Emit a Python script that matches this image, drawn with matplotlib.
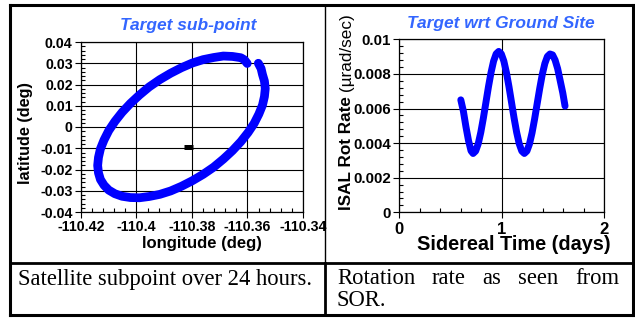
import matplotlib
matplotlib.use("Agg")
import matplotlib.pyplot as plt
from matplotlib.lines import Line2D
from matplotlib.ticker import MultipleLocator

# sub-point track over one day (deg)
track_lon = [-110.3561, -110.3551, -110.3546, -110.3539, -110.3536, -110.3539,
             -110.3546, -110.3559, -110.3576, -110.3598, -110.3624, -110.3654,
             -110.3687, -110.3722, -110.3760, -110.3799, -110.3838, -110.3877,
             -110.3916, -110.3954, -110.3989, -110.4022, -110.4052, -110.4078,
             -110.4100, -110.4117, -110.4130, -110.4137, -110.4140, -110.4137,
             -110.4130, -110.4117, -110.4100, -110.4078, -110.4052, -110.4022,
             -110.3989, -110.3954, -110.3916, -110.3877, -110.3838, -110.3799,
             -110.3760, -110.3722, -110.3687, -110.3654, -110.3624, -110.3611,
             -110.3601]
track_lat = [0.0300, 0.0275, 0.0247, 0.0216, 0.0181, 0.0143,
             0.0103, 0.0061, 0.0017, -0.0026, -0.0069, -0.0111,
             -0.0151, -0.0189, -0.0223, -0.0253, -0.0279, -0.0301,
             -0.0317, -0.0327, -0.0333, -0.0332, -0.0326, -0.0314,
             -0.0297, -0.0274, -0.0247, -0.0216, -0.0181, -0.0143,
             -0.0103, -0.0061, -0.0017, 0.0026, 0.0069, 0.0111,
             0.0151, 0.0189, 0.0223, 0.0253, 0.0279, 0.0301,
             0.0317, 0.0327, 0.0334, 0.0332, 0.0326, 0.0316,
             0.0299]
site_lon = [-110.3828, -110.3798]
site_lat = [-0.0092, -0.0092]

lon_ticks = [-110.42, -110.40, -110.38, -110.36, -110.34]
lon_labels = ["-110.42", "-110.4", "-110.38", "-110.36", "-110.34"]
lat_ticks = [-0.04, -0.03, -0.02, -0.01, 0.0, 0.01, 0.02, 0.03, 0.04]
lat_labels = ["-0.04", "-0.03", "-0.02", "-0.01", "0", "0.01", "0.02", "0.03", "0.04"]

# ISAL rotation rate vs sidereal time
sid_days = [0.600, 0.625, 0.650, 0.675, 0.700, 0.720, 0.745, 0.770, 0.795,
            0.820, 0.845, 0.870, 0.895, 0.920, 0.945, 0.970, 0.995, 1.020,
            1.045, 1.070, 1.095, 1.120, 1.145, 1.170, 1.195, 1.220, 1.245,
            1.270, 1.295, 1.320, 1.345, 1.370, 1.395, 1.420, 1.445, 1.470,
            1.495, 1.520, 1.545, 1.570, 1.595, 1.617]
rot_rate = [0.00650, 0.00585, 0.00495, 0.00415, 0.00355, 0.00340, 0.00354,
            0.00396, 0.00462, 0.00544, 0.00635, 0.00726, 0.00808, 0.00874,
            0.00916, 0.00930, 0.00916, 0.00874, 0.00808, 0.00726, 0.00635,
            0.00544, 0.00462, 0.00396, 0.00354, 0.00340, 0.00354, 0.00395,
            0.00459, 0.00539, 0.00628, 0.00716, 0.00797, 0.00860, 0.00901,
            0.00915, 0.00910, 0.00880, 0.00830, 0.00760, 0.00690, 0.00614]
rate_ticks = [0, 0.002, 0.004, 0.006, 0.008, 0.01]
rate_labels = ["0", "0.002", "0.004", "0.006", "0.008", "0.01"]
day_ticks = [0, 1, 2]
day_labels = ["0", "1", "2"]

title_blue = "#3366ff"
plt.rcParams["font.family"] = ["Liberation Sans", "DejaVu Sans"]
plt.rcParams["font.weight"] = "bold"

fig = plt.figure(figsize=(6.35, 3.2), dpi=100)

# ---- left: sub-point ----
ax1 = fig.add_axes([81 / 635, 1 - 212 / 320, 222 / 635, 170 / 320])
ax1.plot(track_lon, track_lat, color="#0000ff", lw=6.3, solid_capstyle="round",
         solid_joinstyle="round", zorder=3)
ax1.plot(site_lon, site_lat, color="black", lw=3.6, solid_capstyle="butt", zorder=4)
ax1.set_xlim(-110.42, -110.34)
ax1.set_ylim(-0.04, 0.04)
ax1.set_xticks(lon_ticks)
ax1.set_xticklabels(lon_labels)
ax1.set_yticks(lat_ticks)
ax1.set_yticklabels(lat_labels)
ax1.xaxis.set_minor_locator(MultipleLocator(0.004))
ax1.yaxis.set_minor_locator(MultipleLocator(0.002))
ax1.grid(True, which="major", color="black", lw=0.8)
ax1.set_title("Target sub-point", color=title_blue, style="italic", fontsize=12.5,
              fontweight="bold", x=0.482, y=1.02)
ax1.set_xlabel("longitude (deg)", fontsize=12, fontweight="bold")
ax1.xaxis.set_label_coords(0.545, -0.188)
ax1.xaxis.label.set_va("center")
ax1.set_ylabel("latitude (deg)", fontsize=11.7, fontweight="bold")
ax1.yaxis.set_label_coords(-0.25, 0.465)
ax1.yaxis.label.set_va("center")

# ---- right: rotation rate ----
ax2 = fig.add_axes([399.3 / 635, 1 - 212.3 / 320, 205 / 635, 173 / 320])
ax2.plot(sid_days, rot_rate, color="#0000ff", lw=5, solid_capstyle="round",
         solid_joinstyle="round", zorder=3)
ax2.set_xlim(0, 2)
ax2.set_ylim(0, 0.01)
ax2.set_xticks(day_ticks)
ax2.set_xticklabels(day_labels)
ax2.set_yticks(rate_ticks)
ax2.set_yticklabels(rate_labels)
ax2.xaxis.set_minor_locator(MultipleLocator(0.2))
ax2.yaxis.set_minor_locator(MultipleLocator(0.0004))
ax2.grid(True, which="major", color="black", lw=0.8)
ax2.set_title("Target wrt Ground Site", color=title_blue, style="italic", fontsize=12.5,
              fontweight="bold", x=0.496, y=1.02)
ax2.set_xlabel("Sidereal Time (days)", fontsize=14.3, fontweight="bold")
ax2.xaxis.set_label_coords(0.56, -0.189)
ax2.xaxis.label.set_va("center")
# y label: bold name, plain units stacked above it
rate_name = fig.text(346.7 / 635, 1 - 210 / 320, "ISAL Rot Rate ", rotation=90,
                     fontsize=12.3, fontweight="bold", ha="center", va="bottom")
ax2.annotate("(\u00b5rad/sec)", xy=(0.5, 1.0), xycoords=rate_name, rotation=90,
             fontsize=12.3, fontweight="normal", ha="center", va="bottom")

for ax, fs in ((ax1, 10.2), (ax2, 10.8)):
    ax.tick_params(which="major", direction="out", length=4, width=0.8,
                   labelsize=fs, pad=2)
    ax.tick_params(which="minor", direction="in", length=3, width=0.8)
    for sp in ax.spines.values():
        sp.set_linewidth(0.9)
ax2.tick_params(axis="x", which="major", labelsize=12, pad=3)

# ---- table frame and captions ----
x0, x1, xm = 9.5 / 635, 633 / 635, 325 / 635
y0, y1, ym = 1 - 315 / 320, 1 - 5 / 320, 1 - 263 / 320
for xs, ys, w in (([x0, x1], [y1, y1], 2.2), ([x0, x1], [y0, y0], 2.2),
                  ([x0, x0], [y0, y1], 2.2), ([x1, x1], [y0, y1], 2.2),
                  ([x0, x1], [ym, ym], 2.0), ([xm, xm], [ym, y1], 1.0),
                  ([xm, xm], [y0, ym], 2.0)):
    fig.add_artist(Line2D(xs, ys, color="black", lw=w, solid_capstyle="projecting"))

serif = ["Liberation Serif", "DejaVu Serif"]
cap_size = 16.3
fig.text(18 / 635, 1 - 279 / 320, "Satellite subpoint over 24 hours.", family=serif,
         fontsize=cap_size, fontweight="normal", ha="left", va="center")

# justified first line of the right caption
words = ["Rotation", "rate", "as", "seen", "from"]
line_left, line_right = 337, 619
word_texts = [fig.text(0, 1 - 279 / 320, w, family=serif, fontsize=cap_size,
                       fontweight="normal", ha="left", va="center") for w in words]
renderer = fig.canvas.get_renderer()
widths = [t.get_window_extent(renderer).width for t in word_texts]
gap = (line_right - line_left - sum(widths)) / (len(words) - 1)
pos = line_left
for t, w in zip(word_texts, widths):
    t.set_x(pos / 635)
    pos += w + gap
fig.text(line_left / 635, 1 - 301 / 320, "SOR.", family=serif, fontsize=cap_size,
         fontweight="normal", ha="left", va="center")

fig.savefig("out.png", dpi=100)
